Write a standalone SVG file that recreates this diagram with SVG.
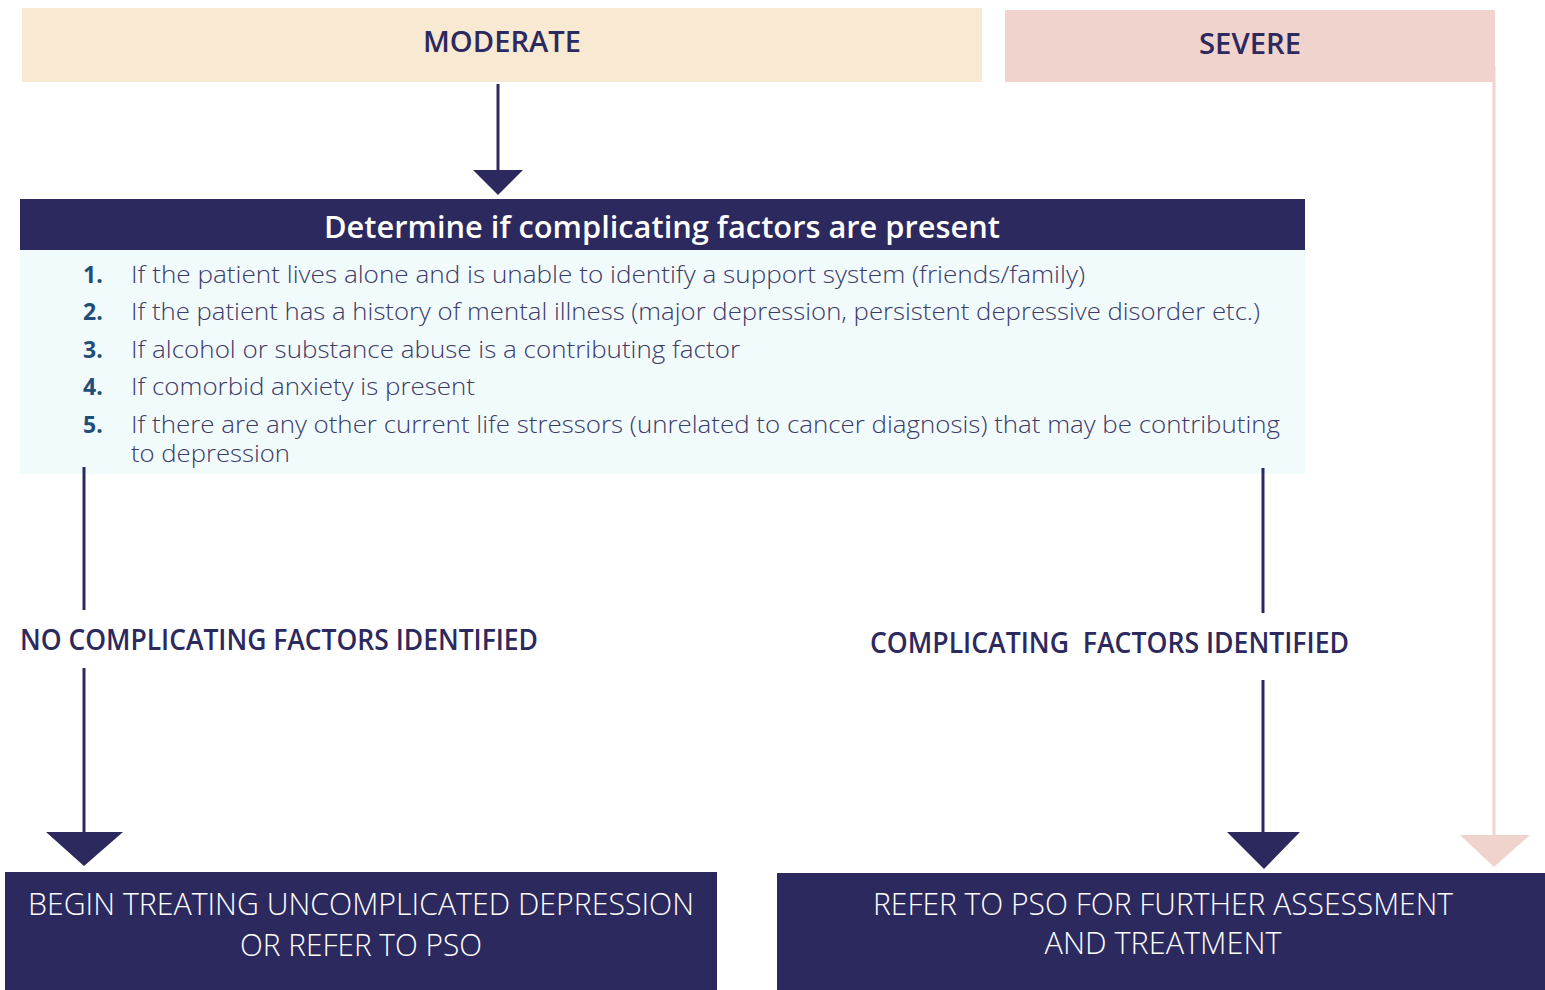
<svg xmlns="http://www.w3.org/2000/svg" width="1545" height="990" viewBox="0 0 1545 990">
<style>
.nav{fill:#2c295e}
.hd{font-family:"Open Sans","Liberation Sans",sans-serif;font-weight:600;fill:#2c295e}
.item{font-family:"Open Sans","Liberation Sans",sans-serif;font-weight:300;font-size:23px;fill:#3b3a68}
.num{font-family:"Open Sans","Liberation Sans",sans-serif;font-weight:700;font-size:23px;fill:#1f4e79}
.out{font-family:"Open Sans","Liberation Sans",sans-serif;font-weight:300;font-size:32px;fill:#ffffff}
.ln{stroke:#2c295e;stroke-width:3;fill:none}
</style>
<rect width="1545" height="990" fill="#ffffff"/>
<g id="moderate">
<rect x="22" y="8" width="960" height="74" fill="#f8e9d2"/>
<text class="hd" x="502" y="52" font-size="29" text-anchor="middle" textLength="158" lengthAdjust="spacingAndGlyphs">MODERATE</text>
</g>
<g id="severe">
<rect x="1005" y="10" width="490" height="72" fill="#f0d3cd"/>
<text class="hd" x="1250" y="54" font-size="29" text-anchor="middle" textLength="102" lengthAdjust="spacingAndGlyphs">SEVERE</text>
</g>
<g id="determine">
<rect x="20" y="250" width="1285" height="224" fill="#f2fbfc"/>
<rect x="20" y="199" width="1285" height="51" fill="#2c295e"/>
<text x="662" y="238" font-family="'Open Sans','Liberation Sans',sans-serif" font-weight="600" font-size="31" fill="#ffffff" text-anchor="middle" textLength="676" lengthAdjust="spacingAndGlyphs">Determine if complicating factors are present</text>
<text class="num" x="83" y="283">1.</text>
<text class="item" x="131" y="283" textLength="954" lengthAdjust="spacingAndGlyphs">If the patient lives alone and is unable to identify a support system (friends/family)</text>
<text class="num" x="83" y="320">2.</text>
<text class="item" x="131" y="320" textLength="1129" lengthAdjust="spacingAndGlyphs">If the patient has a history of mental illness (major depression, persistent depressive disorder etc.)</text>
<text class="num" x="83" y="358">3.</text>
<text class="item" x="131" y="358" textLength="609" lengthAdjust="spacingAndGlyphs">If alcohol or substance abuse is a contributing factor</text>
<text class="num" x="83" y="395">4.</text>
<text class="item" x="131" y="395" textLength="344" lengthAdjust="spacingAndGlyphs">If comorbid anxiety is present</text>
<text class="num" x="83" y="433">5.</text>
<text class="item" x="131" y="433" textLength="1149" lengthAdjust="spacingAndGlyphs">If there are any other current life stressors (unrelated to cancer diagnosis) that may be contributing</text>
<text class="item" x="131" y="462" textLength="159" lengthAdjust="spacingAndGlyphs">to depression</text>
</g>
<g id="no-factors-label">
<text class="hd" x="20" y="650" font-size="28" textLength="518" lengthAdjust="spacingAndGlyphs">NO COMPLICATING FACTORS IDENTIFIED</text>
</g>
<g id="factors-label">
<text class="hd" x="870" y="653" font-size="28" textLength="479" lengthAdjust="spacingAndGlyphs" xml:space="preserve">COMPLICATING  FACTORS IDENTIFIED</text>
</g>
<g id="begin-treating">
<rect x="5" y="872" width="712" height="118" fill="#2c295e"/>
<text class="out" x="361" y="915" text-anchor="middle" textLength="666" lengthAdjust="spacingAndGlyphs">BEGIN TREATING UNCOMPLICATED DEPRESSION</text>
<text class="out" x="361" y="956" text-anchor="middle" textLength="242" lengthAdjust="spacingAndGlyphs">OR REFER TO PSO</text>
</g>
<g id="refer-pso">
<rect x="777" y="873" width="768" height="117" fill="#2c295e"/>
<text class="out" x="1163" y="915" text-anchor="middle" textLength="580" lengthAdjust="spacingAndGlyphs">REFER TO PSO FOR FURTHER ASSESSMENT</text>
<text class="out" x="1163" y="954" text-anchor="middle" textLength="237" lengthAdjust="spacingAndGlyphs">AND TREATMENT</text>
</g>
<g id="connectors">
<line class="ln" x1="498" y1="84" x2="498" y2="172"/>
<polygon class="nav" points="473,170 523,170 498,195"/>
<line class="ln" x1="84" y1="467" x2="84" y2="610"/>
<line class="ln" x1="84" y1="668" x2="84" y2="834"/>
<polygon class="nav" points="46,832 123,832 84,866"/>
<line class="ln" x1="1263" y1="468" x2="1263" y2="613"/>
<line class="ln" x1="1263" y1="680" x2="1263" y2="834"/>
<polygon class="nav" points="1227,832 1300,832 1264,869"/>
<line x1="1494" y1="66" x2="1494" y2="836" stroke="#f0d3cd" stroke-width="3"/>
<polygon points="1460,835 1530,835 1494,867" fill="#f0d3cd"/>
</g>
</svg>
